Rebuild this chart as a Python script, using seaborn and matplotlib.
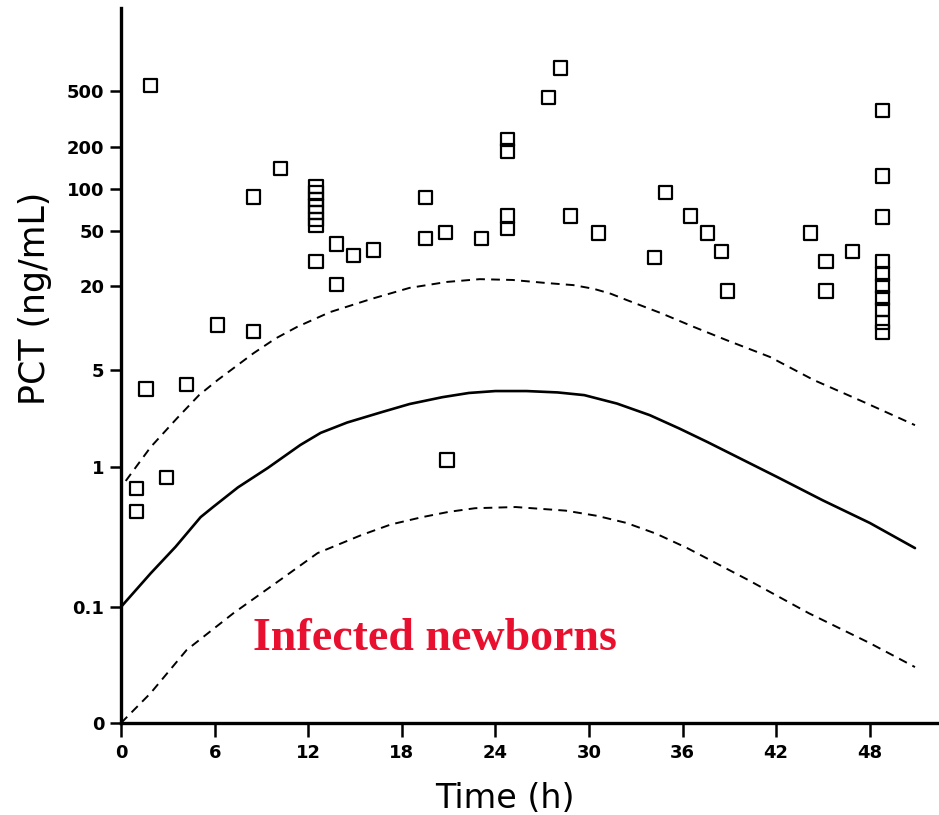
import numpy as np
import pandas as pd
import seaborn as sns
import matplotlib.pyplot as plt

# ---------------- data ----------------
AXIS_FLOOR = 0.0147   # value drawn at the axis bottom, labelled "0"

pt_time = [1.9, 10.2, 8.5,
           12.5, 12.5, 12.5, 12.5, 12.5, 12.5, 12.5, 12.5,
           13.8, 13.8, 6.2, 8.5, 1.6, 4.2, 2.9, 1.0, 1.0,
           14.9, 16.2, 19.5, 19.5, 20.8, 23.1, 20.9,
           24.8, 24.8, 24.8, 24.8, 27.4, 28.2, 28.8,
           30.6, 34.9, 34.2, 36.5, 37.6, 38.5, 38.9,
           44.2, 45.2, 45.2, 46.9,
           48.8, 48.8, 48.8, 48.8, 48.8, 48.8, 48.8, 48.8, 48.8, 48.8]
pt_pct = [545, 140, 87,
          104, 93, 84, 75, 67, 60, 54, 30,
          40, 20.4, 10.5, 9.4, 3.65, 3.96, 0.85, 0.71, 0.48,
          32.9, 36.3, 85.7, 43.6, 48.3, 43.6, 1.13,
          226, 186, 63.6, 52, 447, 733, 63.6,
          48, 94, 32, 63.6, 48, 35.6, 18.4,
          48, 29.8, 18.4, 35.6,
          361, 123, 62.5, 29.8, 24.4, 20.0, 16.4, 13.5, 11.0, 9.35]

mid_time = [0, 1.9, 3.5, 5.1, 5.9, 7.5, 9.4, 11.5, 12.8, 14.5, 16.7, 18.5,
            20.6, 22.3, 24.0, 26.0, 28.0, 29.7, 31.8, 33.9, 35.8, 37.6,
            42.1, 45.0, 48.0, 50.9]
mid_pct = [0.10, 0.174, 0.27, 0.44, 0.52, 0.72, 0.99, 1.45, 1.77, 2.1, 2.49, 2.85,
           3.19, 3.42, 3.53, 3.53, 3.45, 3.30, 2.87, 2.37, 1.9, 1.52,
           0.85, 0.58, 0.40, 0.264]

up_time = [0.3, 1.9, 3.6, 5.0, 6.2, 8.5, 9.9, 11.3, 13.4, 16.0, 18.5, 20.9,
           23.0, 25.1, 27.3, 29.0, 30.3, 31.4, 32.4, 34.6, 36.7, 38.8, 41.6,
           44.4, 47.6, 50.9]
up_pct = [0.80, 1.4, 2.26, 3.3, 4.24, 6.6, 8.4, 10.2, 13.0, 16.1, 19.4, 21.4,
          22.4, 22.1, 21.0, 20.3, 19.1, 17.6, 15.9, 12.8, 10.2, 8.2, 6.2,
          4.24, 2.95, 2.01]

lo_time = [0, 1.9, 4.2, 7.2, 10.2, 12.6, 15.4, 17.3, 19.3, 21.0, 22.7, 25.3,
           28.5, 30.5, 32.4, 34.3, 36.3, 40.2, 44.1, 48.0, 50.9]
lo_pct = [AXIS_FLOOR, 0.0241, 0.049, 0.090, 0.156, 0.243, 0.327, 0.39, 0.44,
          0.48, 0.51, 0.52, 0.49, 0.45, 0.40, 0.335, 0.264, 0.156, 0.090,
          0.055, 0.037]

x_ticks = [0, 6, 12, 18, 24, 30, 36, 42, 48]
y_ticks = [AXIS_FLOOR, 0.1, 1, 5, 20, 50, 100, 200, 500]
y_tick_labels = ["0", "0.1", "1", "5", "20", "50", "100", "200", "500"]

# ---------------- figure ----------------
sns.set_style("ticks", {"axes.edgecolor": "black", "text.color": "black",
                        "xtick.color": "black", "ytick.color": "black",
                        "axes.labelcolor": "black"})
plt.rcParams['font.family'] = ['DejaVu Sans']

fig = plt.figure(figsize=(9.39, 8.15), dpi=100)
ax = fig.add_axes([0.1289, 0.1129, 0.8711, 0.8773])

pts = pd.DataFrame({"time": pt_time, "pct": pt_pct})
sns.scatterplot(data=pts, x="time", y="pct", marker="s", s=90,
                facecolor="none", edgecolor="black", linewidth=1.6,
                ax=ax, zorder=3)

sns.lineplot(x=mid_time, y=mid_pct, sort=False, estimator=None,
             color="black", linewidth=1.9, ax=ax)
for tt, vv in [(up_time, up_pct), (lo_time, lo_pct)]:
    sns.lineplot(x=tt, y=vv, sort=False, estimator=None, color="black",
                 linewidth=1.4, ax=ax)
    ax.lines[-1].set_dashes((4.5, 3.2))

ax.set_yscale("log")
ax.set_xlim(0, 52.44)
ax.set_ylim(AXIS_FLOOR, 1972)
ax.set_xticks(x_ticks)
ax.set_xticklabels([str(v) for v in x_ticks])
ax.set_yticks(y_ticks)
ax.set_yticklabels(y_tick_labels)
ax.yaxis.set_minor_locator(plt.NullLocator())

for lab in ax.get_xticklabels() + ax.get_yticklabels():
    lab.set_fontsize(13)
    lab.set_fontweight("bold")

ax.tick_params(axis="y", direction="out", length=8, width=1.8, pad=4)
ax.tick_params(axis="x", direction="out", length=10, width=1.8, pad=5)

for side in ["top", "right"]:
    ax.spines[side].set_visible(False)
ax.spines["left"].set_linewidth(2.4)
ax.spines["bottom"].set_linewidth(2.4)

ax.set_xlabel("Time (h)", fontsize=24)
ax.set_ylabel("PCT (ng/mL)", fontsize=25)
ax.xaxis.set_label_coords(0.469, -0.082)
ax.yaxis.set_label_coords(-0.085, 0.594)

ax.text(20.1, 0.049, "Infected newborns", ha="center", va="baseline",
        fontsize=33, fontweight="bold", color="#e8102e",
        family=["Liberation Serif", "DejaVu Serif"])

fig.savefig("out.png", dpi=100)
